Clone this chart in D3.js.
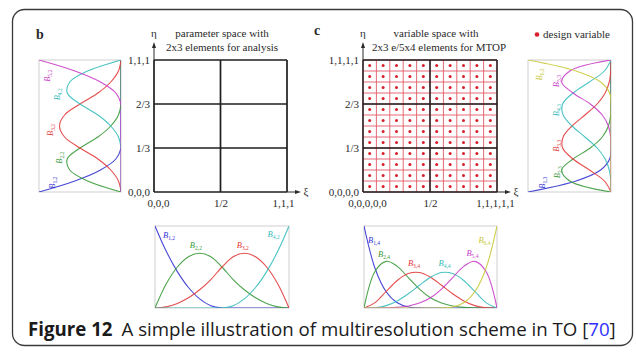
<!DOCTYPE html>
<html><head><meta charset="utf-8">
<script src="https://cdn.jsdelivr.net/npm/d3@7"></script>
<style>body{margin:0;background:#fff}svg{display:block}</style>
</head><body>
<svg id="fig" width="636" height="353"></svg>
<script>
// ---------------- DATA ----------------
// parameter sample positions (xi or eta) at which basis values were read
const tSamples = [0, 0.0833, 0.1667, 0.25, 0.3333, 0.4167, 0.5, 0.5833, 0.6667, 0.75, 0.8333, 0.9167, 1];

// panel b: quadratic basis along xi (2 elements) — B1,2..B4,2
const bXiB1 = [1, .694, .444, .25, .111, .028, 0, 0, 0, 0, 0, 0, 0];
const bXiB2 = [0, .292, .5, .625, .667, .625, .5, .347, .222, .125, .056, .014, 0];
const bXiB3 = [0, .014, .056, .125, .222, .347, .5, .625, .667, .625, .5, .292, 0];
const bXiB4 = [0, 0, 0, 0, 0, 0, 0, .028, .111, .25, .444, .694, 1];
const bXiLabels = ["1,2", "2,2", "3,2", "4,2"];

// panel b: quadratic basis along eta (3 elements) — B1,2..B5,2
const bEtaB1 = [1, .563, .25, .063, 0, 0, 0, 0, 0, 0, 0, 0, 0];
const bEtaB2 = [0, .406, .625, .656, .5, .281, .125, .031, 0, 0, 0, 0, 0];
const bEtaB3 = [0, .031, .125, .281, .5, .688, .75, .688, .5, .281, .125, .031, 0];
const bEtaB4 = [0, 0, 0, 0, 0, .031, .125, .281, .5, .656, .625, .406, 0];
const bEtaB5 = [0, 0, 0, 0, 0, 0, 0, 0, 0, .063, .25, .563, 1];
const bEtaLabels = ["1,2", "2,2", "3,2", "4,2", "5,2"];

// panel c: quartic basis along xi — B1,4..B6,4
const cXiB1 = [1, .482, .198, .063, .012, .001, 0, 0, 0, 0, 0, 0, 0];
const cXiB2 = [0, .448, .569, .508, .370, .230, .125, .060, .025, .008, .002, 0, 0];
const cXiB3 = [0, .066, .202, .336, .420, .432, .375, .277, .173, .086, .029, .004, 0];
const cXiB4 = [0, .004, .029, .086, .173, .277, .375, .432, .420, .336, .202, .066, 0];
const cXiB5 = [0, 0, .002, .008, .025, .060, .125, .230, .370, .508, .569, .448, 0];
const cXiB6 = [0, 0, 0, 0, 0, 0, 0, .001, .012, .063, .198, .482, 1];
const cXiLabels = ["1,4", "2,4", "3,4", "4,4", "5,4", "6,4"];

// panel c: cubic basis along eta — B1,3..B6,3
const cEtaB1 = [1, .422, .125, .016, 0, 0, 0, 0, 0, 0, 0, 0, 0];
const cEtaB2 = [0, .496, .594, .457, .25, .105, .031, .004, 0, 0, 0, 0, 0];
const cEtaB3 = [0, .079, .260, .457, .583, .577, .469, .314, .167, .070, .021, .003, 0];
const cEtaB4 = [0, .003, .021, .070, .167, .314, .469, .577, .583, .457, .260, .079, 0];
const cEtaB5 = [0, 0, 0, 0, 0, .004, .031, .105, .25, .457, .594, .496, 0];
const cEtaB6 = [0, 0, 0, 0, 0, 0, 0, 0, 0, .016, .125, .422, 1];
const cEtaLabels = ["1,3", "2,3", "3,3", "4,3", "5,3", "6,3"];

// element boundaries and tick labels
const bElemXi = [0, 0.5, 1];
const bElemEta = [0, 1/3, 2/3, 1];
const bXiTicks = ["0,0,0", "1/2", "1,1,1"];
const bEtaTicks = ["0,0,0", "1/3", "2/3", "1,1,1"];
const cElemXi = [0, 0.5, 1];
const cElemEta = [0, 1/3, 2/3, 1];
const cXiTicks = ["0,0,0,0,0", "1/2", "1,1,1,1,1"];
const cEtaTicks = ["0,0,0,0", "1/3", "2/3", "1,1,1,1"];
const cVarCols = 10;   // design-variable elements along xi
const cVarRows = 12;   // design-variable elements along eta

// ---------------- STYLE ----------------
const serif = "'Liberation Serif','Times New Roman',serif";
const sans = "'Open Sans','Noto Sans',sans-serif";
const colors = ["#3434d2", "#3a9a3a", "#e23a3a", "#38bcbc", "#c83cc8", "#c9c93a"];
const ink = "#2a2a2a";

const svg = d3.select("#fig");
svg.append("rect").attr("width", 636).attr("height", 353).attr("fill", "#fff");
svg.append("rect").attr("x", 12.5).attr("y", 9.5).attr("width", 620).attr("height", 336)
  .attr("rx", 12).attr("fill", "#fff").attr("stroke", "#3a3a3a").attr("stroke-width", 1.3);

let clipId = 0;
function addLabel(textSel, sub) {
  textSel.append("tspan").attr("font-style", "italic").text("B");
  textSel.append("tspan").attr("font-size", 5.5).attr("dy", 2).text(sub);
}

function basisPanel(o) {
  const g = svg.append("g");
  const id = "clip" + (clipId++);
  g.append("clipPath").attr("id", id).append("rect")
    .attr("x", o.x0).attr("y", o.y0).attr("width", o.x1 - o.x0).attr("height", o.y1 - o.y0);
  g.append("rect").attr("x", o.x0).attr("y", o.y0).attr("width", o.x1 - o.x0).attr("height", o.y1 - o.y0)
    .attr("fill", "#fff").attr("stroke", "#cfcfcf").attr("stroke-width", 1);
  let px, py, line;
  if (!o.vertical) {
    px = d3.scaleLinear([0, 1], [o.x0, o.x1]);
    py = d3.scaleLinear([0, 1], [o.y1, o.y0]);
    line = d3.line().x((d, i) => px(tSamples[i])).y(d => py(d)).curve(d3.curveCatmullRom.alpha(0.5));
  } else {
    px = d3.scaleLinear([0, 1], [o.x1, o.x0]);
    py = d3.scaleLinear([0, 1], [o.y1, o.y0]);
    line = d3.line().x(d => px(d)).y((d, i) => py(tSamples[i])).curve(d3.curveCatmullRom.alpha(0.5));
  }
  g.append("g").attr("clip-path", `url(#${id})`).selectAll("path").data(o.curves).join("path")
    .attr("d", line).attr("fill", "none").attr("stroke", (d, i) => colors[i])
    .attr("stroke-width", 1.1).attr("stroke-opacity", 0.9);
  o.labels.forEach((lab, i) => {
    const p = o.labelPos[i];
    const t = g.append("text").attr("font-family", serif).attr("font-size", 8.5)
      .attr("fill", colors[i]);
    if (!o.vertical) {
      t.attr("x", px(p[0])).attr("y", py(p[1]));
    } else {
      t.attr("text-anchor", "middle")
        .attr("transform", `translate(${px(p[0])},${py(p[1])}) rotate(-90)`);
    }
    addLabel(t, lab);
  });
}

// ---------- panel b ----------
const xB = d3.scaleLinear([0, 1], [154, 287]);
const yB = d3.scaleLinear([0, 1], [192, 60]);
const xC = d3.scaleLinear([0, 1], [363, 497]);
const yC = d3.scaleLinear([0, 1], [192, 60]);

function gridAxes(xs, ys, elemX, elemY, xTicks, yTicks, xShift) {
  const g = svg.append("g");
  const ax = g.append("g").attr("transform", `translate(0,${ys(0)})`)
    .call(d3.axisBottom(xs).tickValues(elemX).tickFormat((d, i) => xTicks[i]).tickSize(0).tickPadding(7));
  ax.select(".domain").remove();
  ax.selectAll("text").attr("font-family", serif).attr("font-size", 11).attr("fill", ink)
    .attr("dx", (d, i) => xShift[i]);
  const ay = g.append("g").attr("transform", `translate(${xs(0)},0)`)
    .call(d3.axisLeft(ys).tickValues(elemY).tickFormat((d, i) => yTicks[i]).tickSize(0).tickPadding(4));
  ay.select(".domain").remove();
  ay.selectAll("text").attr("font-family", serif).attr("font-size", 11).attr("fill", ink);
  // axis arrows
  const ox = xs(0), oy = ys(0), top = ys(1), right = xs(1);
  g.append("line").attr("x1", ox).attr("y1", top).attr("x2", ox).attr("y2", top - 14)
    .attr("stroke", ink).attr("stroke-width", 1);
  g.append("path").attr("d", `M${ox},${top - 18}L${ox - 2},${top - 12}L${ox + 2},${top - 12}Z`).attr("fill", ink);
  g.append("line").attr("x1", right).attr("y1", oy).attr("x2", right + 10).attr("y2", oy)
    .attr("stroke", ink).attr("stroke-width", 1);
  g.append("path").attr("d", `M${right + 14},${oy}L${right + 8},${oy - 2}L${right + 8},${oy + 2}Z`).attr("fill", ink);
  g.append("text").attr("x", ox).attr("y", top - 23).attr("text-anchor", "middle")
    .attr("font-family", serif).attr("font-size", 11).attr("fill", ink).text("η");
  g.append("text").attr("x", right + 19).attr("y", oy + 3).attr("text-anchor", "middle")
    .attr("font-family", serif).attr("font-size", 11).attr("fill", ink).text("ξ");
  return g;
}

// panel b grid
const gb = svg.append("g");
gb.selectAll("line.v").data(bElemXi).join("line").attr("x1", d => xB(d)).attr("x2", d => xB(d))
  .attr("y1", yB(0)).attr("y2", yB(1)).attr("stroke", "#1e1e1e").attr("stroke-width", 1.7);
gb.selectAll("line.h").data(bElemEta).join("line").attr("y1", d => yB(d)).attr("y2", d => yB(d))
  .attr("x1", xB(0)).attr("x2", xB(1)).attr("stroke", "#1e1e1e").attr("stroke-width", 1.7);
gridAxes(xB, yB, bElemXi, bElemEta, bXiTicks, bEtaTicks, [4, 0, -4]);

// panel c grid: fine design-variable mesh
const gc = svg.append("g");
const fineX = d3.range(cVarCols + 1).map(i => i / cVarCols);
const fineY = d3.range(cVarRows + 1).map(i => i / cVarRows);
gc.selectAll("line.fv").data(fineX).join("line").attr("x1", d => xC(d)).attr("x2", d => xC(d))
  .attr("y1", yC(0)).attr("y2", yC(1)).attr("stroke", "#e25a66").attr("stroke-width", 0.9);
gc.selectAll("line.fh").data(fineY).join("line").attr("y1", d => yC(d)).attr("y2", d => yC(d))
  .attr("x1", xC(0)).attr("x2", xC(1)).attr("stroke", "#e25a66").attr("stroke-width", 0.9);
const centers = [];
for (let i = 0; i < cVarCols; i++) for (let j = 0; j < cVarRows; j++)
  centers.push([(i + 0.5) / cVarCols, (j + 0.5) / cVarRows]);
gc.selectAll("circle").data(centers).join("circle").attr("cx", d => xC(d[0])).attr("cy", d => yC(d[1]))
  .attr("r", 1.5).attr("fill", "#d81e2a");
gc.selectAll("line.v").data(cElemXi).join("line").attr("x1", d => xC(d)).attr("x2", d => xC(d))
  .attr("y1", yC(0)).attr("y2", yC(1)).attr("stroke", "#1e1e1e").attr("stroke-width", 1.5);
gc.selectAll("line.h").data(cElemEta).join("line").attr("y1", d => yC(d)).attr("y2", d => yC(d))
  .attr("x1", xC(0)).attr("x2", xC(1)).attr("stroke", "#1e1e1e").attr("stroke-width", 1.5);
gridAxes(xC, yC, cElemXi, cElemEta, cXiTicks, cEtaTicks, [4, 0, -2]);

// titles
function txt(x, y, s, anchor, size, weight) {
  return svg.append("text").attr("x", x).attr("y", y).attr("text-anchor", anchor || "start")
    .attr("font-family", serif).attr("font-size", size || 11).attr("font-weight", weight || "normal")
    .attr("fill", ink).text(s);
}
txt(222, 37, "parameter space with", "middle");
txt(222, 51, "2x3 elements for analysis", "middle");
txt(436, 37, "variable space with", "middle");
txt(439, 51, "2x3 e/5x4 elements for MTOP", "middle");
txt(36, 39, "b", "start", 14, "bold");
txt(314, 35, "c", "start", 14, "bold");
svg.append("circle").attr("cx", 537).attr("cy", 34.5).attr("r", 2.3).attr("fill", "#d81e2a");
txt(543, 38, "design variable", "start");

// basis function panels
basisPanel({ x0: 155, x1: 289, y0: 226, y1: 308, vertical: false,
  curves: [bXiB1, bXiB2, bXiB3, bXiB4], labels: bXiLabels,
  labelPos: [[0.06, 0.85], [0.26, 0.73], [0.61, 0.73], [0.84, 0.87]] });
basisPanel({ x0: 39, x1: 121, y0: 60, y1: 192, vertical: true,
  curves: [bEtaB1, bEtaB2, bEtaB3, bEtaB4, bEtaB5], labels: bEtaLabels,
  labelPos: [[0.80, 0.07], [0.72, 0.26], [0.83, 0.47], [0.74, 0.74], [0.87, 0.88]] });
basisPanel({ x0: 364, x1: 497, y0: 226, y1: 308, vertical: false,
  curves: [cXiB1, cXiB2, cXiB3, cXiB4, cXiB5, cXiB6], labels: cXiLabels,
  labelPos: [[0.03, 0.79], [0.105, 0.62], [0.33, 0.51], [0.56, 0.51], [0.77, 0.63], [0.86, 0.79]] });
basisPanel({ x0: 528, x1: 611, y0: 60, y1: 192, vertical: true,
  curves: [cEtaB1, cEtaB2, cEtaB3, cEtaB4, cEtaB5, cEtaB6], labels: cEtaLabels,
  labelPos: [[0.80, 0.07], [0.62, 0.15], [0.63, 0.35], [0.63, 0.62], [0.63, 0.84], [0.83, 0.89]] });

// caption
const cap = svg.append("text").attr("x", 28).attr("y", 336).attr("font-family", sans)
  .attr("font-size", 17).attr("fill", "#1a1a1a");
cap.append("tspan").attr("font-weight", "bold").text("Figure 12");
cap.append("tspan").attr("dx", 9).text("A simple illustration of multiresolution scheme in TO [");
cap.append("tspan").attr("fill", "#2f2fff").text("70");
cap.append("tspan").text("]");
const L = cap.node().getComputedTextLength();
cap.attr("font-size", 17 * 579 / L);
</script>
</body></html>
